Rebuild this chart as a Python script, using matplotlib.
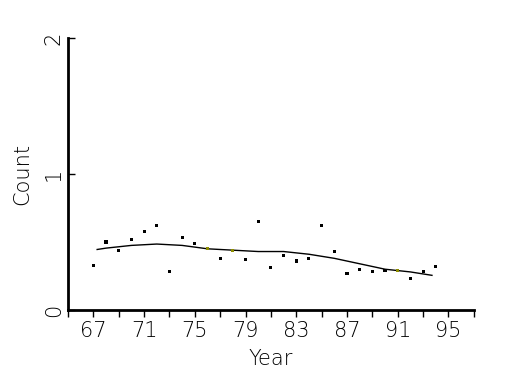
import matplotlib
matplotlib.use("Agg")
from matplotlib import pyplot as plt

# yearly counts (dots)
years = [67, 68, 69, 70, 71, 72, 73, 74, 75, 76, 77, 78, 79, 80,
         81, 82, 83, 84, 85, 86, 87, 88, 89, 90, 91, 92, 93, 94]
counts = [0.33, 0.50, 0.44, 0.52, 0.58, 0.62, 0.28, 0.53, 0.49, 0.45, 0.38, 0.44, 0.37, 0.65,
          0.31, 0.40, 0.36, 0.38, 0.62, 0.43, 0.27, 0.30, 0.28, 0.29, 0.29, 0.23, 0.28, 0.32]
# the points drawn in olive
olive_years = [76, 78, 91]

# smoothed trend
smooth_years = [67.3, 68, 70, 72, 74, 76, 78, 80, 82, 84, 86, 88, 90, 92, 93.7]
smooth_counts = [0.445, 0.455, 0.475, 0.485, 0.475, 0.45, 0.44, 0.43, 0.43, 0.41,
                 0.38, 0.34, 0.30, 0.28, 0.255]

x_ticks = [67, 71, 75, 79, 83, 87, 91, 95]
y_ticks = [0, 1, 2]

fig = plt.figure(figsize=(5.25, 3.75), dpi=100)
ax = fig.add_axes([0.1295, 0.1733, 0.773, 0.7254])

ax.plot(smooth_years, smooth_counts, color='black', linewidth=1)
dot_colors = ['#8c8c00' if y in olive_years else 'black' for y in years]
ax.scatter(years, counts, s=5, marker='s', c=dot_colors, linewidths=0, zorder=3)

ax.set_xlim(65, 97)
ax.set_ylim(0, 2)
ax.spines['top'].set_visible(False)
ax.spines['right'].set_visible(False)
ax.spines['left'].set_linewidth(2)
ax.spines['bottom'].set_linewidth(2)

txt = dict(fontsize=15, fontweight='light', color='black')
ax.set_xticks(x_ticks)
ax.set_xticks(range(65, 98, 2), minor=True)
ax.set_xticklabels([str(t) for t in x_ticks], **txt)
ax.tick_params(axis='x', which='both', direction='out', length=5, width=1, pad=3)
ax.set_yticks(y_ticks)
ax.set_yticklabels([str(t) for t in y_ticks], rotation=90, va='center', **txt)
ax.tick_params(axis='y', direction='in', length=5, width=1, pad=3)

ax.set_xlabel('Year', labelpad=6, **txt)
ax.set_ylabel('Count', labelpad=8, **txt)

fig.savefig('out.png', dpi=100)
